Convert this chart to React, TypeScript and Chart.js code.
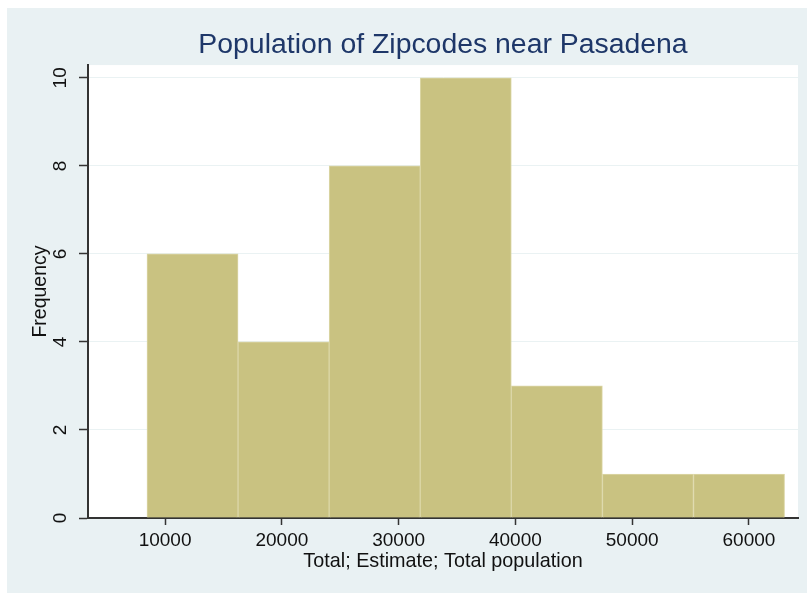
import React, { useEffect, useRef } from "react";
import { Chart, registerables } from "chart.js";

Chart.register(...registerables);

const binEdges = [8450, 16250, 24050, 31850, 39650, 47450, 55250, 63050];
const frequencies = [6, 4, 8, 10, 3, 1, 1];
const xTicks = [10000, 20000, 30000, 40000, 50000, 60000];
const yTicks = [0, 2, 4, 6, 8, 10];
const titleText = "Population of Zipcodes near Pasadena";
const xTitle = "Total; Estimate; Total population";
const yTitle = "Frequency";

const BG = "#E9F1F3";
const FONT = "'Liberation Sans', Arial, sans-serif";

export default function App() {
  const ref = useRef<HTMLCanvasElement | null>(null);

  useEffect(() => {
    if (!ref.current) return;
    const points = frequencies.map((f, i) => ({
      x: (binEdges[i] + binEdges[i + 1]) / 2,
      y: f,
    }));

    const bgPlugin = {
      id: "bgPlugin",
      beforeDraw(chart: any) {
        const { ctx, chartArea: a, width, height } = chart;
        ctx.save();
        ctx.fillStyle = BG;
        ctx.fillRect(0, 0, width, height);
        ctx.fillStyle = "#ffffff";
        ctx.fillRect(a.left, a.top, a.right - a.left, a.bottom - a.top);
        ctx.restore();
      },
    };

    const yLabelPlugin = {
      id: "yLabelPlugin",
      afterDraw(chart: any) {
        const { ctx } = chart;
        const s = chart.scales.y;
        ctx.save();
        ctx.font = `19px ${FONT}`;
        ctx.fillStyle = "#111";
        ctx.textAlign = "center";
        ctx.textBaseline = "middle";
        for (const v of yTicks) {
          const y = s.getPixelForValue(v);
          ctx.save();
          ctx.translate(54, y);
          ctx.rotate(-Math.PI / 2);
          ctx.fillText(String(v), 0, 0);
          ctx.restore();
        }
        ctx.restore();
      },
    };

    const chart = new Chart(ref.current, {
      type: "bar",
      data: {
        datasets: [
          {
            label: yTitle,
            data: points,
            backgroundColor: "#C9C281",
            borderColor: "#DCD7A8",
            borderWidth: 1,
            barPercentage: 1,
            categoryPercentage: 1,
          },
        ],
      },
      options: {
        responsive: false,
        animation: false,
        devicePixelRatio: 1,
        layout: { padding: { left: 0, right: 9, top: 0, bottom: 0 } },
        plugins: {
          legend: { display: false },
          tooltip: { enabled: false },
          title: {
            display: true,
            text: titleText,
            fullSize: false,
            color: "#1E3769",
            font: { family: FONT, size: 28.4, weight: "normal" },
            padding: { top: 20, bottom: 3 },
          },
        },
        scales: {
          x: {
            type: "linear",
            min: 3400,
            max: 64200,
            offset: false,
            afterBuildTicks: (s: any) => {
              s.ticks = xTicks.map((v) => ({ value: v }));
            },
            afterFit: (s: any) => {
              s.height = 75;
            },
            grid: {
              offset: false,
              drawOnChartArea: false,
              tickLength: 7,
              tickColor: "#333",
              tickWidth: 1.5,
            },
            border: { color: "#333", width: 2 },
            ticks: {
              color: "#111",
              font: { family: FONT, size: 19 },
              padding: 4,
              maxRotation: 0,
              autoSkip: false,
              callback: (v: any) => String(v),
            },
            title: {
              display: true,
              text: xTitle,
              color: "#111",
              font: { family: FONT, size: 19.8 },
              padding: { top: 0, bottom: 20 },
            },
          },
          y: {
            type: "linear",
            min: 0,
            max: 10.29,
            afterBuildTicks: (s: any) => {
              s.ticks = yTicks.map((v) => ({ value: v }));
            },
            afterFit: (s: any) => {
              s.width = 81;
            },
            grid: {
              color: "#EAF2F3",
              lineWidth: 1,
              tickLength: 9,
              tickColor: "#333",
              tickWidth: 1.5,
            },
            border: { color: "#333", width: 2 },
            ticks: { display: false },
            title: {
              display: true,
              text: yTitle,
              color: "#111",
              font: { family: FONT, size: 19.5 },
              padding: { top: 22, bottom: 0 },
            },
          },
        },
      },
      plugins: [bgPlugin, yLabelPlugin],
    });
    return () => chart.destroy();
  }, []);

  return (
    <div style={{ position: "fixed", left: 7, top: 8, width: 800, height: 585 }}>
      <canvas ref={ref} width={800} height={585} style={{ display: "block" }} />
    </div>
  );
}
